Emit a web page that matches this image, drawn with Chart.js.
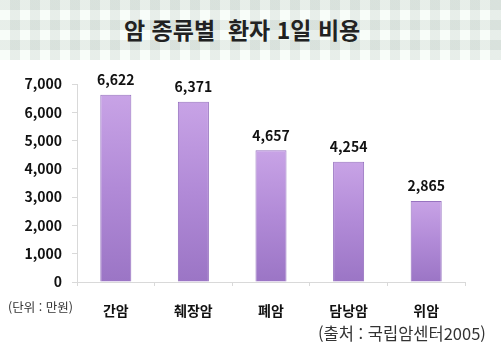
<!DOCTYPE html>
<html lang="ko">
<head>
<meta charset="utf-8">
<script src="https://cdn.jsdelivr.net/npm/chart.js@4/dist/chart.umd.min.js"></script>
<style>
    html, body { margin: 0; padding: 0; background: #fff; }
    body { width: 501px; height: 346px; position: relative; overflow: hidden; font-family: 'Noto Sans CJK KR', 'Noto Sans', sans-serif; }
    .banner {
        position: absolute; left: 0; top: 0; width: 501px; height: 60px;
        background-color: #f8fdf9;
        background-image:
            repeating-linear-gradient(90deg, rgba(120,140,130,0.13) 0 10px, transparent 10px 20px),
            repeating-linear-gradient(180deg, rgba(120,140,130,0.13) 0 10px, transparent 10px 20px);
        background-position: -10px 0, 0 0;
    }
    .banner h1 {
        position: absolute; left: 124px; top: 14px; margin: 0;
        font-size: 23px; font-weight: 700; color: #222; white-space: pre; line-height: 30px;
    }
    #chartWrap { position: absolute; left: 0; top: 0; width: 501px; height: 346px; }
    .note { position: absolute; white-space: nowrap; color: #333; }
    #unit { left: 8px; top: 297px; font-size: 12.5px; }
    #source { left: 318px; top: 321px; font-size: 16.5px; }
</style>
</head>
<body>
<div class="banner"><h1>암 종류별  환자 1일 비용</h1></div>
<div id="chartWrap"><canvas id="costChart" width="501" height="346"></canvas></div>
<div class="note" id="unit">(단위 : 만원)</div>
<div class="note" id="source">(출처 : 국립암센터2005)</div>
<script>
const cancerTypes = ['간암', '췌장암', '폐암', '담낭암', '위암'];
const dailyCost = [6622, 6371, 4657, 4254, 2865];
const yTicks = [0, 1000, 2000, 3000, 4000, 5000, 6000, 7000];

const AXIS_GREY = '#d9d9d9';
const LABEL_FONT = "'Noto Sans CJK KR', 'Noto Sans', sans-serif";

function barGradient(context) {
    const chart = context.chart;
    const area = chart.chartArea;
    if (!area) return '#b08bd6';
    const yScale = chart.scales.y;
    const top = yScale.getPixelForValue(context.raw);
    const base = yScale.getPixelForValue(0);
    const g = chart.ctx.createLinearGradient(0, top, 0, base);
    g.addColorStop(0, '#c8a3e6');
    g.addColorStop(0.5, '#b18ad7');
    g.addColorStop(1, '#9b75c5');
    return g;
}

// value labels above each bar
const valueLabels = {
    id: 'valueLabels',
    afterDatasetsDraw(chart) {
        const ctx = chart.ctx;
        const meta = chart.getDatasetMeta(0);
        ctx.save();
        ctx.font = `bold 14px ${LABEL_FONT}`;
        ctx.fillStyle = '#111';
        ctx.textAlign = 'center';
        ctx.textBaseline = 'bottom';
        meta.data.forEach((bar, i) => {
            ctx.fillText(dailyCost[i].toLocaleString('en-US'), bar.x, bar.y - 8);
        });
        ctx.restore();
    }
};

new Chart(document.getElementById('costChart'), {
    type: 'bar',
    data: {
        labels: cancerTypes,
        datasets: [{
            data: dailyCost,
            backgroundColor: barGradient,
            borderColor: 'rgba(140,100,185,0.9)',
            borderWidth: 1,
            barPercentage: 0.8,
            categoryPercentage: 0.5
        }]
    },
    options: {
        responsive: false,
        animation: false,
        layout: { padding: { top: 84, right: 36, bottom: 0, left: 0 } },
        plugins: {
            legend: { display: false },
            tooltip: { enabled: false }
        },
        scales: {
            y: {
                min: 0,
                max: 7000,
                afterFit(scale) { scale.width = 77; },
                afterBuildTicks(scale) { scale.ticks = yTicks.map(v => ({ value: v })); },
                border: { display: true, color: AXIS_GREY, width: 1 },
                grid: { drawOnChartArea: false, tickLength: 5, color: AXIS_GREY },
                ticks: {
                    padding: 10,
                    color: '#111',
                    font: { family: LABEL_FONT, size: 14, weight: 'bold' },
                    callback: v => Number(v).toLocaleString('en-US')
                }
            },
            x: {
                afterFit(scale) { scale.height = 64; },
                border: { display: true, color: AXIS_GREY, width: 1 },
                grid: { offset: true, drawOnChartArea: false, tickLength: 4, color: AXIS_GREY },
                ticks: {
                    padding: 16,
                    color: '#111',
                    font: { family: LABEL_FONT, size: 14, weight: 'bold' }
                }
            }
        }
    },
    plugins: [valueLabels]
});
</script>
</body>
</html>
